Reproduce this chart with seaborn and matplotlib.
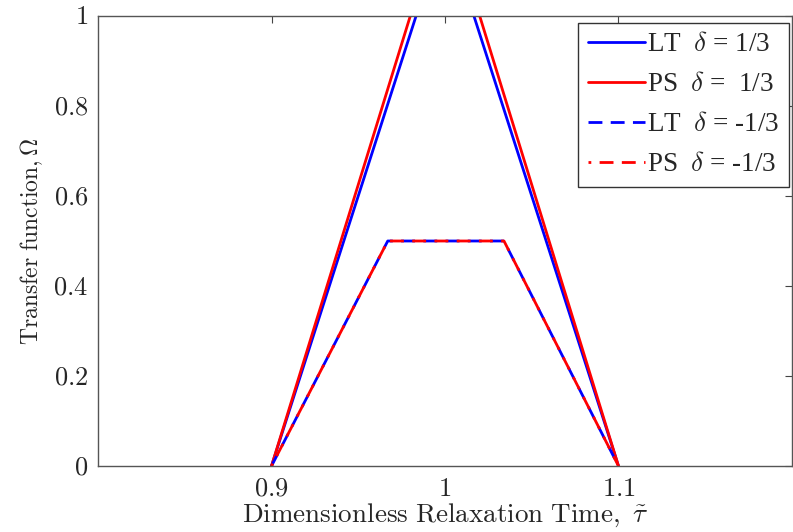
import matplotlib
matplotlib.use("Agg")
import matplotlib.pyplot as plt
import seaborn as sns
import pandas as pd

# Data
tau_lt_pos = [0.9, 1.0, 1.1]
omega_lt_pos = [0.0, 1.2, 0.0]
tau_ps_pos = [0.9, 1.0, 1.1]
omega_ps_pos = [0.0, 1.25, 0.0]
tau_lt_neg = [0.9, 0.967, 1.034, 1.1]
omega_lt_neg = [0.0, 0.5, 0.5, 0.0]
tau_ps_neg = [0.9, 0.967, 1.034, 1.1]
omega_ps_neg = [0.0, 0.5, 0.5, 0.0]
labels = ["LT  $\\delta$ = 1/3", "PS  $\\delta$ =  1/3",
          "LT  $\\delta$ = -1/3", "PS  $\\delta$ = -1/3"]
x_ticks = [0.9, 1.0, 1.1]
x_tick_labels = ["$0.9$", "$1$", "$1.1$"]
y_ticks = [0, 0.2, 0.4, 0.6, 0.8, 1.0]
y_tick_labels = ["$0$", "$0.2$", "$0.4$", "$0.6$", "$0.8$", "$1$"]

sns.set_style("white")
plt.rcParams["font.family"] = ["Liberation Serif", "DejaVu Serif"]
plt.rcParams["mathtext.fontset"] = "cm"

fig = plt.figure(figsize=(7.93, 5.32), dpi=100)
ax = fig.add_axes([0.1236, 0.124, 0.8751, 0.846])

series = [
    (tau_lt_pos, omega_lt_pos, "#0000ff", "-", labels[0]),
    (tau_ps_pos, omega_ps_pos, "#ff0000", "-", labels[1]),
    (tau_lt_neg, omega_lt_neg, "#0000ff", (0, (5, 3)), labels[2]),
    (tau_ps_neg, omega_ps_neg, "#ff0000", (4, (5, 3)), labels[3]),
]
for t, o, c, ls, lab in series:
    df = pd.DataFrame({"tau": t, "omega": o})
    sns.lineplot(data=df, x="tau", y="omega", ax=ax, sort=False, estimator=None,
                 color=c, linewidth=2, linestyle=ls, label=lab)

ax.set_xlim(0.8, 1.2)
ax.set_ylim(0, 1)
ax.set_xticks(x_ticks)
ax.set_xticklabels(x_tick_labels)
ax.set_yticks(y_ticks)
ax.set_yticklabels(y_tick_labels)
ax.tick_params(direction="in", top=True, right=True, labelsize=19, length=5,
               width=0.8, color="#444444", pad=7)
ax.tick_params(axis="x", pad=9)
for s in ax.spines.values():
    s.set_color("#555555")
    s.set_linewidth(1.0)
ax.set_xlabel("$\\mathrm{Dimensionless\\ Relaxation\\ Time,}\\ \\tilde{\\tau}$",
              fontsize=19.5, labelpad=1)
ax.set_ylabel("$\\mathrm{Transfer\\ function,}\\Omega$", fontsize=17, labelpad=6)

leg = ax.legend(loc="upper right", bbox_to_anchor=(0.9957, 0.9844),
                prop={"family": "Liberation Serif", "size": 19.5},
                frameon=True, fancybox=False,
                edgecolor="#333333", framealpha=1, handlelength=2.1,
                handletextpad=0.1, borderpad=0.35, labelspacing=0.55,
                borderaxespad=0)
leg.get_frame().set_linewidth(1.0)

fig.savefig("out.png", dpi=100)
